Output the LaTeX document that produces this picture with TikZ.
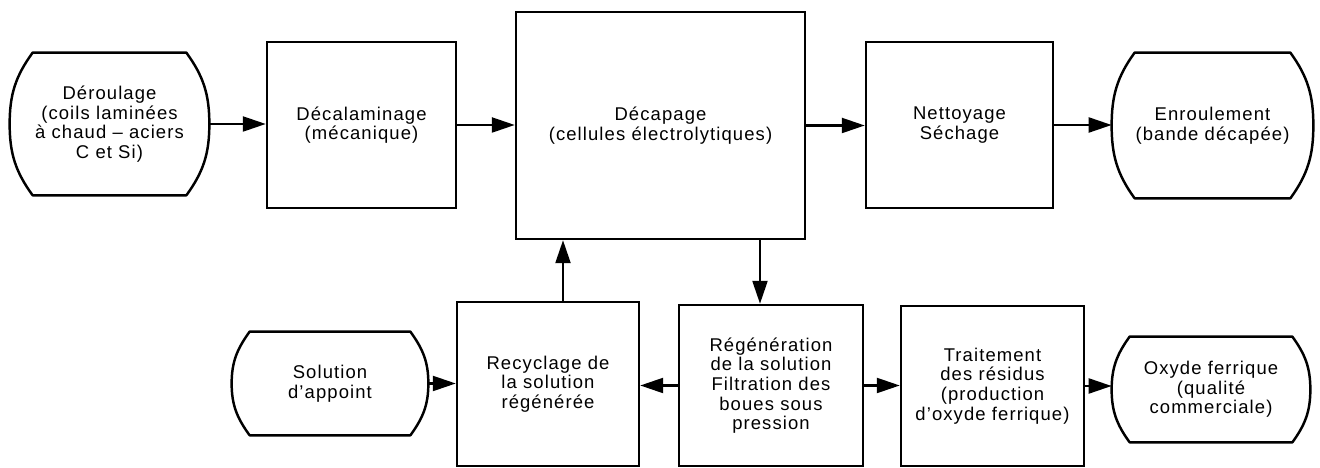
\documentclass[tikz,border=0pt]{standalone}
\usepackage{fontspec}
\setmainfont{Liberation Sans}[LetterSpace=6]
\usetikzlibrary{arrows.meta}

\tikzset{
  txt/.style={align=center, inner sep=0pt, font=\fontsize{10.5}{11.2}\selectfont},
  box/.style={txt, draw, line width=1.4pt},
  flow/.style={-{Triangle[length=4.6mm,width=3mm]}, line width=1.3pt},
}

\begin{document}
\begin{tikzpicture}
\useasboundingbox (0,0) rectangle (26.4,9.36);

% ligne de la bande
\node[txt, minimum width=3.98cm, minimum height=2.84cm] (der) at (2.19,6.88)
  {D\'eroulage\\(coils lamin\'ees\\\`a chaud -- aciers\\C et Si)};
\node[box, minimum width=3.78cm, minimum height=3.32cm] (dec) at (7.23,6.86)
  {D\'ecalaminage\\(m\'ecanique)};
\node[box, minimum width=5.78cm, minimum height=4.54cm] (cap) at (13.21,6.85)
  {D\'ecapage\\(cellules \'electrolytiques)};
\node[box, minimum width=3.74cm, minimum height=3.32cm] (net) at (19.19,6.86)
  {Nettoyage\\S\'echage};
\node[txt, minimum width=4.02cm, minimum height=2.9cm] (enr) at (24.25,6.85)
  {Enroulement\\(bande d\'ecap\'ee)};

% circuit de la solution
\node[txt, minimum width=3.92cm, minimum height=2.06cm] (sol) at (6.6,1.69)
  {Solution\\d'appoint};
\node[box, minimum width=3.64cm, minimum height=3.28cm] (rec) at (10.96,1.68)
  {Recyclage de\\la solution\\r\'eg\'en\'er\'ee};
\node[box, minimum width=3.68cm, minimum height=3.22cm] (reg) at (15.42,1.65)
  {R\'eg\'en\'eration\\de la solution\\Filtration des\\boues sous\\pression};
\node[box, minimum width=3.66cm, minimum height=3.2cm] (tra) at (19.85,1.64)
  {Traitement\\des r\'esidus\\(production\\d'oxyde ferrique)};
\node[txt, minimum width=3.96cm, minimum height=2.1cm] (oxy) at (24.22,1.57)
  {Oxyde ferrique\\(qualit\'e\\commerciale)};

% entrees / sorties
\foreach \n/\d in {der/0.46,enr/0.46,sol/0.36,oxy/0.36}
  \draw[line width=1.4pt, line join=round]
    ([xshift=\d cm]\n.north west) -- ([xshift=-\d cm]\n.north east)
    to[out=-54,in=90] (\n.east)
    to[out=-90,in=54] ([xshift=-\d cm]\n.south east)
    -- ([xshift=\d cm]\n.south west)
    to[out=126,in=-90] (\n.west)
    to[out=90,in=-126] cycle;

\draw[flow] (der.east) -- (der.east -| dec.west);
\draw[flow] (dec.east) -- (dec.east -| cap.west);
\draw[flow] (cap.east) -- (cap.east -| net.west);
\draw[flow] (net.east) -- (net.east -| enr.west);

\coordinate (back) at ([xshift=0.3cm]rec.north);
\coordinate (down) at ([xshift=-0.22cm]reg.north);
\draw[flow] (back) -- (back |- cap.south);
\draw[flow] (down |- cap.south) -- (down);

\draw[flow] (sol.east) -- (sol.east -| rec.west);
\draw[flow] (reg.west) -- (reg.west -| rec.east);
\draw[flow] (reg.east) -- (reg.east -| tra.west);
\draw[flow] (tra.east) -- (tra.east -| oxy.west);

\end{tikzpicture}
\end{document}
